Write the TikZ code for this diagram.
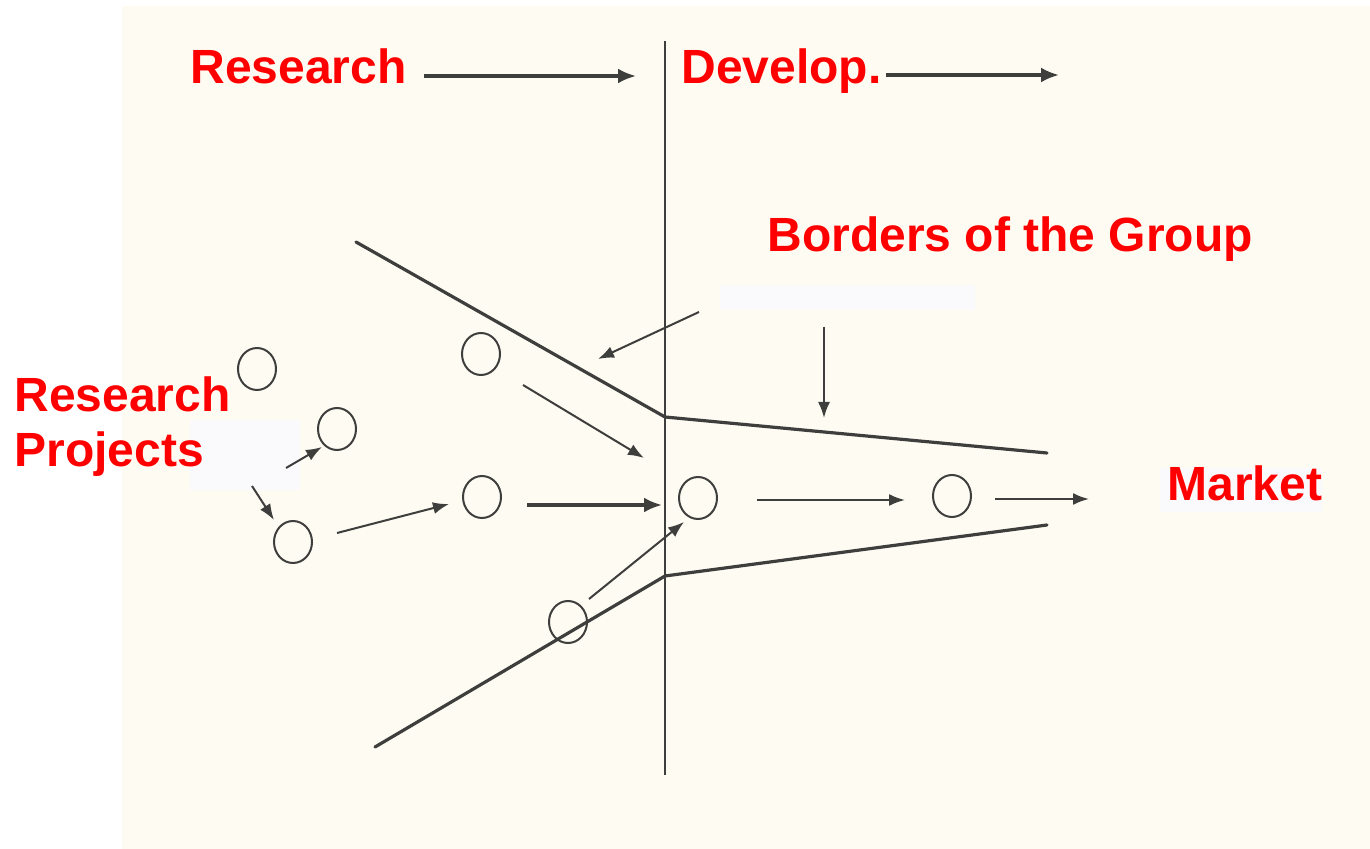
\documentclass[tikz,border=0pt]{standalone}
\usepackage{fontspec}
\setmainfont{Liberation Sans}
\usetikzlibrary{shapes.geometric,arrows.meta}
\definecolor{paper}{RGB}{253,251,242}
\definecolor{patch}{RGB}{250,249,252}
\definecolor{ink}{RGB}{62,62,60}
\definecolor{lbl}{RGB}{255,0,0}
\tikzset{
  lab/.style={text=lbl,font=\bfseries\fontsize{24}{28}\selectfont,inner sep=0pt,anchor=base west},
  proj/.style={draw=ink,line width=1pt,ellipse,minimum width=19pt,minimum height=21pt,inner sep=0pt},
  border/.style={draw=ink,line width=1.6pt,line cap=round,line join=round},
  flow/.style={draw=ink,line width=1pt,-{Latex[length=8pt,width=6pt]}},
  bigflow/.style={draw=ink,line width=1.6pt,-{Latex[length=9pt,width=7.5pt]}}
}
\begin{document}
\begin{tikzpicture}[x=0.5pt,y=-0.5pt]
\useasboundingbox (0,0) rectangle (1370,849);
\fill[white] (0,0) rectangle (1370,849);
\fill[paper] (122,6) rectangle (1370,849);
% faint patches
\fill[patch] (190,420) rectangle (300,490);
\fill[patch] (1160,468) rectangle (1322,512);
\fill[patch] (720,285) rectangle (975,310);

% labels
\node[lab] (research) at (190,84) {Research};
\node[lab] (develop) at (681,84) {Develop.};
\node[lab] (borders) at (767,252) {Borders of the Group};
\node[lab] (rp1) at (14,412) {Research};
\node[lab] (rp2) at (14,467) {Projects};
\node[lab] (market) at (1167,501) {Market};

% coordinates
\coordinate (vtop) at (665,41);
\coordinate (vbot) at (665,775);
\coordinate (u1) at (356,242);
\coordinate (u2) at (665,417);
\coordinate (u3) at (1047,453);
\coordinate (l1) at (375,747);
\coordinate (l2) at (665,576);
\coordinate (l3) at (1047,525);

\coordinate (ra1) at (424,76);
\coordinate (ra2) at (636,76);
\coordinate (da1) at (886,75);
\coordinate (da2) at (1059,75);

\coordinate (aa1) at (699,312);
\coordinate (aa2) at (598,359);
\coordinate (ab1) at (824,327);
\coordinate (ab2) at (824,418);
\coordinate (ac1) at (523,385);
\coordinate (ac2) at (644,458);
\coordinate (ad1) at (286,468);
\coordinate (ad2) at (322,447);
\coordinate (ae1) at (252,486);
\coordinate (ae2) at (274,520);
\coordinate (af1) at (337,533);
\coordinate (af2) at (449,504);
\coordinate (ag1) at (527,505);
\coordinate (ag2) at (662,505);
\coordinate (ah1) at (757,500);
\coordinate (ah2) at (905,500);
\coordinate (ai1) at (995,499);
\coordinate (ai2) at (1089,499);
\coordinate (aj1) at (589,599);
\coordinate (aj2) at (684,522);

% vertical divider
\draw[draw=ink,line width=1.1pt] (vtop) -- (vbot);

% borders of the group
\draw[border] (u1) -- (u2) -- (u3);
\draw[border] (l1) -- (l2) -- (l3);

% projects
\node[proj] (c1) at (257,369) {};
\node[proj] (c2) at (481,354) {};
\node[proj] (c3) at (337,429) {};
\node[proj] (c4) at (293,542) {};
\node[proj] (c5) at (482,497) {};
\node[proj] (c6) at (698,498) {};
\node[proj] (c7) at (952,496) {};
\node[proj] (c8) at (568,622) {};

% arrows
\draw[bigflow] (ra1) -- (ra2);
\draw[bigflow] (da1) -- (da2);
\draw[flow] (aa1) -- (aa2);
\draw[flow] (ab1) -- (ab2);
\draw[flow] (ac1) -- (ac2);
\draw[flow] (ad1) -- (ad2);
\draw[flow] (ae1) -- (ae2);
\draw[flow] (af1) -- (af2);
\draw[bigflow] (ag1) -- (ag2);
\draw[flow] (ah1) -- (ah2);
\draw[flow] (ai1) -- (ai2);
\draw[flow] (aj1) -- (aj2);
\end{tikzpicture}
\end{document}
